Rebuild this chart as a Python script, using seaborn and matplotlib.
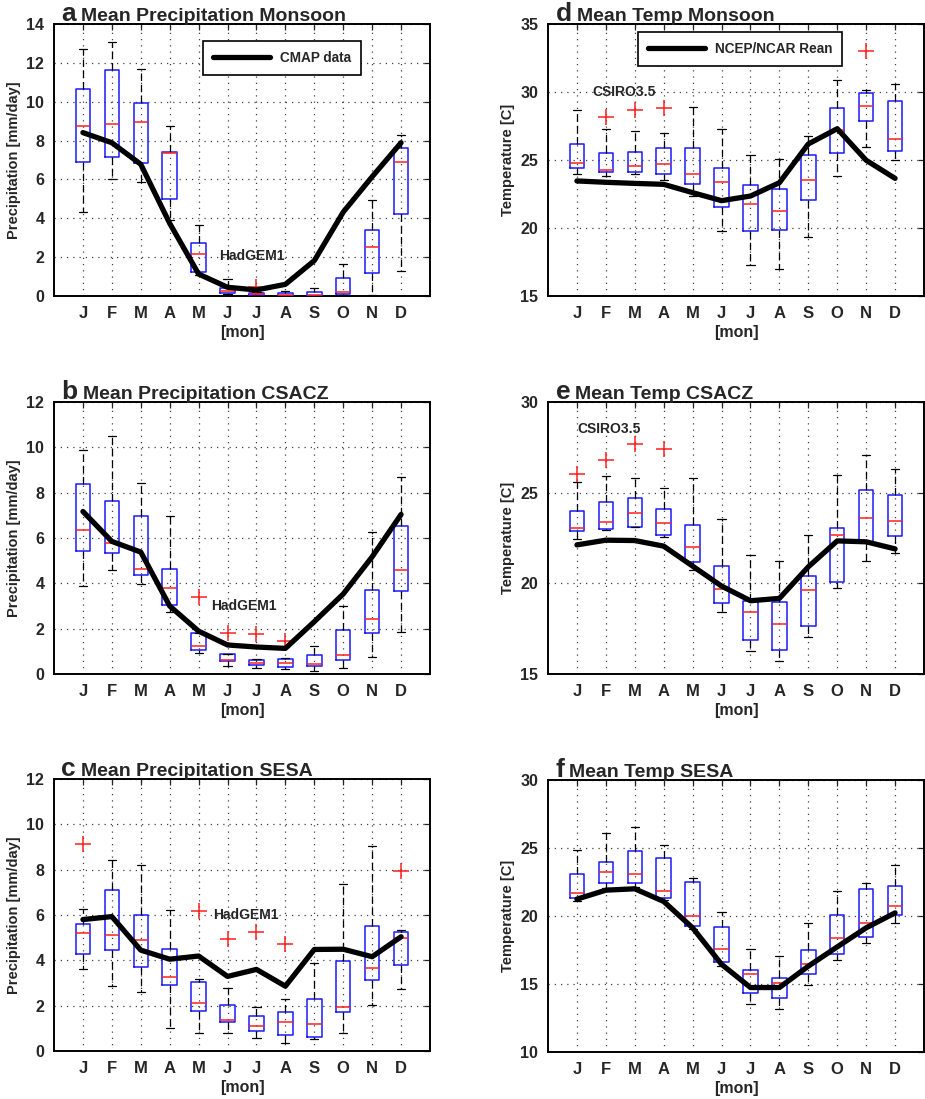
import numpy as np
import pandas as pd
import matplotlib
matplotlib.use("Agg")
import matplotlib.pyplot as plt
import seaborn as sns

sns.set_style("white")
plt.rcParams["font.family"] = ["Liberation Sans", "DejaVu Sans"]
plt.rcParams["font.weight"] = "bold"

month_num = list(range(1, 13))
month_labels = ["J", "F", "M", "A", "M", "J", "J", "A", "S", "O", "N", "D"]

# ---- a: precipitation, Monsoon ----
a_lo  = [4.31, 6.02, 5.85, 3.91, 1.08, 0.10, 0.00, 0.00, 0.00, 0.05, 0.07, 1.29]
a_q1  = [6.90, 7.15, 6.86, 4.99, 1.22, 0.15, 0.03, 0.02, 0.02, 0.12, 1.18, 4.20]
a_med = [8.73, 8.85, 8.94, 7.34, 2.14, 0.26, 0.08, 0.05, 0.05, 0.19, 2.50, 6.88]
a_q3  = [10.67, 11.65, 9.95, 7.43, 2.73, 0.43, 0.14, 0.14, 0.19, 0.94, 3.40, 7.62]
a_hi  = [12.69, 13.07, 11.67, 8.77, 3.67, 0.86, 0.22, 0.26, 0.41, 1.65, 4.94, 8.27]
a_out_m = [7]
a_out_v = [0.48]
a_obs = [8.41, 7.89, 6.78, 3.74, 1.13, 0.45, 0.31, 0.60, 1.82, 4.32, 6.14, 7.89]

# ---- b: precipitation, CSACZ ----
b_lo  = [3.89, 4.57, 3.95, 2.73, 0.91, 0.34, 0.28, 0.24, 0.15, 0.26, 0.73, 1.84]
b_q1  = [5.43, 5.33, 4.35, 3.04, 1.04, 0.56, 0.38, 0.32, 0.37, 0.60, 1.82, 3.64]
b_med = [6.36, 5.80, 4.64, 3.79, 1.23, 0.62, 0.50, 0.47, 0.44, 0.84, 2.44, 4.58]
b_q3  = [8.39, 7.64, 6.95, 4.64, 1.82, 0.87, 0.63, 0.66, 0.85, 1.92, 3.72, 6.55]
b_hi  = [9.90, 10.49, 8.43, 6.96, 1.82, 0.90, 0.65, 0.70, 1.22, 2.98, 6.27, 8.67]
b_out_m = [5, 6, 7, 8]
b_out_v = [3.41, 1.79, 1.75, 1.44]
b_obs = [7.17, 5.85, 5.38, 3.00, 1.89, 1.28, 1.19, 1.13, 2.31, 3.53, 5.17, 7.04]

# ---- c: precipitation, SESA ----
c_lo  = [3.63, 2.86, 2.61, 1.01, 0.78, 0.81, 0.56, 0.37, 0.51, 0.78, 2.04, 2.73]
c_q1  = [4.30, 4.47, 3.72, 2.92, 1.76, 1.29, 0.88, 0.69, 0.63, 1.70, 3.13, 3.80]
c_med = [5.20, 5.13, 4.89, 3.26, 2.12, 1.35, 1.09, 1.26, 1.20, 1.92, 3.67, 4.98]
c_q3  = [5.60, 7.09, 6.02, 4.49, 3.06, 2.01, 1.53, 1.73, 2.29, 3.98, 5.51, 5.27]
c_hi  = [6.27, 8.42, 8.20, 6.23, 3.16, 2.78, 1.95, 2.29, 3.89, 7.36, 9.06, 5.32]
c_out_m = [1, 5, 6, 7, 8, 12]
c_out_v = [9.15, 6.17, 4.94, 5.27, 4.72, 7.96]
c_obs = [5.80, 5.93, 4.45, 4.05, 4.19, 3.29, 3.60, 2.86, 4.48, 4.49, 4.16, 5.04]

# ---- d: temperature, Monsoon ----
d_lo  = [24.00, 23.80, 23.97, 23.53, 22.33, 19.75, 17.30, 16.99, 19.31, 23.85, 25.96, 24.98]
d_q1  = [24.44, 24.09, 24.14, 24.00, 23.24, 21.54, 19.75, 19.85, 22.03, 25.54, 27.89, 25.66]
d_med = [24.80, 24.26, 24.58, 24.73, 23.97, 23.36, 21.79, 21.25, 23.53, 27.18, 28.95, 26.52]
d_q3  = [26.20, 25.54, 25.61, 25.90, 25.90, 24.44, 23.14, 22.84, 25.39, 28.80, 29.95, 29.31]
d_hi  = [28.65, 27.30, 27.16, 27.00, 28.92, 27.25, 25.34, 25.10, 26.76, 30.88, 30.17, 30.56]
d_out_m = [2, 3, 4, 11]
d_out_v = [28.14, 28.68, 28.85, 33.01]
d_obs = [23.46, 23.36, 23.28, 23.21, 22.60, 22.01, 22.35, 23.33, 26.18, 27.30, 24.98, 23.65]

# ---- e: temperature, CSACZ ----
e_lo  = [22.47, 22.93, 23.11, 22.53, 20.71, 18.40, 16.27, 15.73, 17.02, 19.77, 21.22, 21.65]
e_q1  = [22.86, 23.00, 23.11, 22.64, 21.17, 18.91, 16.87, 16.34, 17.66, 20.05, 22.29, 22.60]
e_med = [23.04, 23.37, 23.90, 23.33, 21.98, 19.68, 18.40, 17.77, 19.64, 22.64, 23.63, 23.43]
e_q3  = [24.01, 24.47, 24.71, 24.11, 23.21, 20.97, 19.02, 18.97, 20.43, 23.06, 25.15, 24.88]
e_hi  = [25.61, 25.92, 25.81, 25.23, 25.81, 23.57, 21.57, 21.22, 22.67, 25.98, 27.06, 26.29]
e_out_m = [1, 2, 3, 4]
e_out_v = [26.03, 26.80, 27.67, 27.41]
e_obs = [22.12, 22.38, 22.36, 22.05, 20.95, 19.85, 19.04, 19.17, 20.91, 22.34, 22.29, 21.90]

# ---- f: temperature, SESA ----
f_lo  = [21.07, 22.07, 22.15, 21.17, 19.06, 16.36, 13.56, 13.14, 14.96, 16.75, 17.98, 19.47]
f_q1  = [21.31, 22.39, 22.44, 21.34, 19.28, 16.60, 14.37, 13.95, 15.74, 17.24, 18.47, 20.06]
f_med = [21.71, 23.20, 23.10, 21.85, 20.01, 17.61, 15.74, 15.10, 16.48, 18.37, 19.50, 20.75]
f_q3  = [23.10, 23.94, 24.80, 24.28, 22.47, 19.20, 16.04, 15.42, 17.51, 20.06, 21.98, 22.20]
f_hi  = [24.87, 26.12, 26.52, 25.21, 22.83, 20.31, 17.56, 17.04, 19.47, 21.85, 22.44, 23.72]
f_out_m = []
f_out_v = []
f_obs = [21.24, 21.90, 22.00, 21.07, 19.13, 16.45, 14.74, 14.74, 16.31, 17.73, 19.13, 20.23]

panels = [
    dict(letter="a", title="Mean Precipitation Monsoon", lo=a_lo, q1=a_q1, med=a_med, q3=a_q3, hi=a_hi,
         om=a_out_m, ov=a_out_v, obs=a_obs, ylim=(0, 14), yticks=np.arange(0, 15, 2),
         ylabel="Precipitation [mm/day]", note=("HadGEM1", 5.72, 2.05),
         legend=("CMAP data", (0.396, 0.9375)), pos=(54, 24), tx=(0.019, 0.072)),
    dict(letter="b", title="Mean Precipitation CSACZ", lo=b_lo, q1=b_q1, med=b_med, q3=b_q3, hi=b_hi,
         om=b_out_m, ov=b_out_v, obs=b_obs, ylim=(0, 12), yticks=np.arange(0, 13, 2),
         ylabel="Precipitation [mm/day]", note=("HadGEM1", 5.43, 3.0),
         legend=None, pos=(54, 402), tx=(0.019, 0.077)),
    dict(letter="c", title="Mean Precipitation SESA", lo=c_lo, q1=c_q1, med=c_med, q3=c_q3, hi=c_hi,
         om=c_out_m, ov=c_out_v, obs=c_obs, ylim=(0, 12), yticks=np.arange(0, 13, 2),
         ylabel="Precipitation [mm/day]", note=("HadGEM1", 5.5, 6.0),
         legend=None, pos=(54, 779), tx=(0.019, 0.072)),
    dict(letter="d", title="Mean Temp Monsoon", lo=d_lo, q1=d_q1, med=d_med, q3=d_q3, hi=d_hi,
         om=d_out_m, ov=d_out_v, obs=d_obs, ylim=(15, 35), yticks=np.arange(15, 36, 5),
         ylabel="Temperature [C]", note=("CSIRO3.5", 1.52, 30.0),
         legend=("NCEP/NCAR Rean", (0.239, 0.971)), pos=(548, 24), tx=(0.021, 0.077)),
    dict(letter="e", title="Mean Temp CSACZ", lo=e_lo, q1=e_q1, med=e_med, q3=e_q3, hi=e_hi,
         om=e_out_m, ov=e_out_v, obs=e_obs, ylim=(15, 30), yticks=np.arange(15, 31, 5),
         ylabel="Temperature [C]", note=("CSIRO3.5", 1.0, 28.5),
         legend=None, pos=(548, 402), tx=(0.021, 0.072)),
    dict(letter="f", title="Mean Temp SESA", lo=f_lo, q1=f_q1, med=f_med, q3=f_q3, hi=f_hi,
         om=f_out_m, ov=f_out_v, obs=f_obs, ylim=(10, 30), yticks=np.arange(10, 31, 5),
         ylabel="Temperature [C]", note=None,
         legend=None, pos=(548, 780), tx=(0.021, 0.056)),
]

W, H = 925, 1099
AX_W, AX_H = 376, 272
fig = plt.figure(figsize=(W / 100, H / 100), dpi=100)

for p in panels:
    left, top = p["pos"]
    ax = fig.add_axes([left / W, 1 - (top + AX_H) / H, AX_W / W, AX_H / H])

    # box statistics per month
    stats = []
    for i, m in enumerate(month_num):
        fl = [v for mm, v in zip(p["om"], p["ov"]) if mm == m]
        stats.append(dict(med=p["med"][i], q1=p["q1"][i], q3=p["q3"][i],
                          whislo=p["lo"][i], whishi=p["hi"][i], fliers=fl))
    ax.bxp(stats, positions=month_num, widths=0.5, capwidths=0.28,
           boxprops=dict(color="#1a1aff", lw=1.1),
           medianprops=dict(color="#ff2020", lw=1.1),
           whiskerprops=dict(color="black", lw=0.9, ls=(0, (6, 3))),
           capprops=dict(color="black", lw=0.9),
           flierprops=dict(marker="+", markeredgecolor="#ff2020", markersize=11, mew=1.1),
           manage_ticks=False, zorder=3)

    df = pd.DataFrame({"month": month_num, "value": p["obs"]})
    lab = p["legend"][0] if p["legend"] else None
    sns.lineplot(data=df, x="month", y="value", ax=ax, color="black", lw=3.8,
                 label=lab, legend=bool(lab), zorder=4)

    ax.set_xlim(0, 13)
    ax.set_ylim(*p["ylim"])
    ax.set_xticks(month_num)
    ax.set_xticklabels(month_labels, fontsize=12, fontweight="bold")
    ax.set_yticks(p["yticks"])
    ax.set_yticklabels([f"{v:g}" for v in p["yticks"]], fontsize=11.5, fontweight="bold")
    ax.set_xlabel("[mon]", fontsize=11.5, fontweight="bold", labelpad=3)
    ax.set_ylabel(p["ylabel"], fontsize=10.5, fontweight="bold", labelpad=4)
    ax.tick_params(direction="in", top=True, right=True, length=4, width=0.9, pad=7)
    ax.grid(True, ls=(0, (1, 4)), lw=0.9, color="0.25")
    for s in ax.spines.values():
        s.set_linewidth(1.4)
        s.set_color("black")

    ax.text(p["tx"][0], 1.011, p["letter"], transform=ax.transAxes, fontsize=19,
            fontweight="bold", ha="left", va="baseline")
    ax.text(p["tx"][1], 1.011, p["title"], transform=ax.transAxes, fontsize=14,
            fontweight="bold", ha="left", va="baseline")

    if p["note"]:
        txt, nx, ny = p["note"]
        ax.text(nx, ny, txt, fontsize=10, fontweight="bold", ha="left", va="center", zorder=5)

    if p["legend"]:
        leg = ax.legend(loc="upper left", bbox_to_anchor=p["legend"][1], frameon=True,
                        fancybox=False, framealpha=1, edgecolor="black", handlelength=4.2,
                        borderpad=0.75, borderaxespad=0, handletextpad=0.7,
                        prop=dict(size=9.8, weight="bold"))
        leg.get_frame().set_linewidth(1.2)

fig.savefig("out.png", dpi=100)
